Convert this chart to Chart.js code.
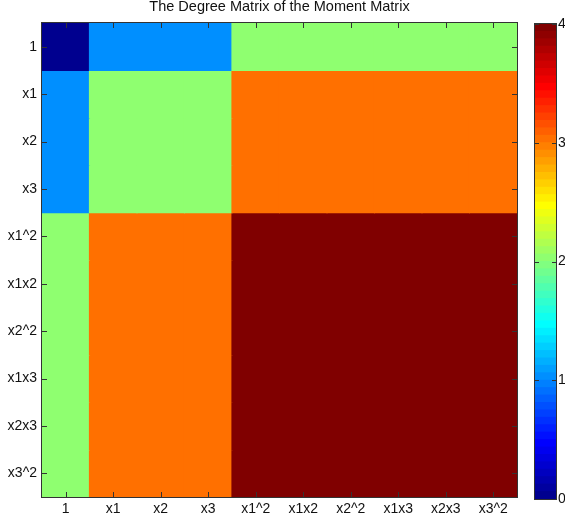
<!DOCTYPE html>
<html>
<head>
<meta charset="utf-8">
<script src="https://cdn.jsdelivr.net/npm/chart.js@4.4.0/dist/chart.umd.min.js"></script>
<style>
    html, body { margin: 0; padding: 0; background: #fff; }
    #wrap { position: relative; width: 565px; height: 520px; }
    #heat { position: absolute; left: 0; top: 0; }
    #cbar { position: absolute; left: 520px; top: 0; }
</style>
</head>
<body>
<div id="wrap">
    <canvas id="heat" width="565" height="520"></canvas>
    <canvas id="cbar" width="45" height="520"></canvas>
</div>
<script>
/* ============================
      DADOS
============================ */
const rowLabels = ["1", "x1", "x2", "x3", "x1^2", "x1x2", "x2^2", "x1x3", "x2x3", "x3^2"];
const colLabels = ["1", "x1", "x2", "x3", "x1^2", "x1x2", "x2^2", "x1x3", "x2x3", "x3^2"];

// degree of each cell, one array per row (top to bottom)
const row1    = [0, 1, 1, 1, 2, 2, 2, 2, 2, 2];
const rowX1   = [1, 2, 2, 2, 3, 3, 3, 3, 3, 3];
const rowX2   = [1, 2, 2, 2, 3, 3, 3, 3, 3, 3];
const rowX3   = [1, 2, 2, 2, 3, 3, 3, 3, 3, 3];
const rowX1_2 = [2, 3, 3, 3, 4, 4, 4, 4, 4, 4];
const rowX1X2 = [2, 3, 3, 3, 4, 4, 4, 4, 4, 4];
const rowX2_2 = [2, 3, 3, 3, 4, 4, 4, 4, 4, 4];
const rowX1X3 = [2, 3, 3, 3, 4, 4, 4, 4, 4, 4];
const rowX2X3 = [2, 3, 3, 3, 4, 4, 4, 4, 4, 4];
const rowX3_2 = [2, 3, 3, 3, 4, 4, 4, 4, 4, 4];
const degreeRows = [row1, rowX1, rowX2, rowX3, rowX1_2, rowX1X2, rowX2_2, rowX1X3, rowX2X3, rowX3_2];

const colorbarTicks = [0, 1, 2, 3, 4];
const cmin = 0, cmax = 4;

const FONT = "'Liberation Sans', Arial, Helvetica, sans-serif";
const TXT = "#111";
const LINE = "#333";

/* ============================
      COLORMAP JET (64)
============================ */
function jetU(j) {
    if (j < 1 || j > 47) return 0;
    if (j <= 16) return j / 16;
    if (j <= 31) return 1;
    return (48 - j) / 16;
}
function jet(i) {
    let r = Math.round(255 * jetU(i - 24));
    let g = Math.round(255 * jetU(i - 8));
    let b = Math.round(255 * jetU(i + 8));
    return "rgb(" + r + "," + g + "," + b + ")";
}
function colorOf(v) {
    let i = Math.floor((v - cmin) / (cmax - cmin) * 64) + 1;
    return jet(Math.min(64, Math.max(1, i)));
}

/* ============================
      TICKS PARA DENTRO + CAIXA
============================ */
const inwardTicks = {
    id: "inwardTicks",
    afterDraw(chart, args, opts) {
        const { ctx, chartArea: a, scales } = chart;
        const len = opts.len || 5;
        ctx.save();
        ctx.strokeStyle = LINE;
        ctx.lineWidth = 1;
        ctx.beginPath();
        if (scales.x && scales.x.options.display !== false) {
            scales.x.ticks.forEach((t, i) => {
                let x = Math.round(scales.x.getPixelForTick(i)) + 0.5;
                ctx.moveTo(x, a.bottom); ctx.lineTo(x, a.bottom - len);
                ctx.moveTo(x, a.top); ctx.lineTo(x, a.top + len);
            });
        }
        scales.y.ticks.forEach((t, i) => {
            let y = Math.round(scales.y.getPixelForValue(t.value)) + 0.5;
            ctx.moveTo(a.left, y); ctx.lineTo(a.left + len, y);
            ctx.moveTo(a.right, y); ctx.lineTo(a.right - len, y);
        });
        ctx.stroke();
        ctx.strokeRect(a.left - 0.5, a.top - 0.5, a.right - a.left + 1, a.bottom - a.top + 1);
        ctx.restore();
    }
};

/* ============================
      MAPA DE CALOR
============================ */
const heatSets = degreeRows.map((vals, r) => ({
    label: rowLabels[r],
    data: vals.map(() => [r, r + 1]),
    backgroundColor: vals.map(colorOf),
    borderWidth: 0,
    inflateAmount: 0.6,
    barPercentage: 1,
    categoryPercentage: 1
}));

new Chart(document.getElementById("heat"), {
    type: "bar",
    data: { labels: colLabels, datasets: heatSets },
    plugins: [inwardTicks],
    options: {
        responsive: false,
        devicePixelRatio: 1,
        animation: false,
        layout: { padding: { left: 0, top: 0, right: 48, bottom: 0 } },
        plugins: {
            legend: { display: false },
            tooltip: { enabled: false },
            inwardTicks: { len: 5 },
            title: {
                display: true,
                text: "The Degree Matrix of the Moment Matrix",
                color: TXT,
                fullSize: false,
                font: { family: FONT, size: 14.5, weight: "normal", lineHeight: 1 },
                padding: { top: 0, bottom: 8.5 }
            }
        },
        scales: {
            x: {
                type: "category",
                stacked: true,
                grid: { display: false, drawTicks: false },
                border: { display: false },
                ticks: { color: TXT, font: { family: FONT, size: 14 }, padding: 4, maxRotation: 0, autoSkip: false },
                afterFit: s => { s.height = 23; }
            },
            y: {
                type: "linear",
                min: 0,
                max: 10,
                reverse: true,
                grid: { display: false, drawTicks: false },
                border: { display: false },
                afterBuildTicks: s => { s.ticks = rowLabels.map((_, i) => ({ value: i + 0.5 })); },
                ticks: { color: TXT, font: { family: FONT, size: 14 }, padding: 5, autoSkip: false, callback: (v, i) => rowLabels[i] },
                afterFit: s => { s.width = 42; }
            }
        }
    }
});

/* ============================
      BARRA DE CORES
============================ */
const cbSets = [];
for (let i = 1; i <= 64; i++) {
    cbSets.push({
        data: [(cmax - cmin) / 64],
        backgroundColor: jet(i),
        borderWidth: 0,
        inflateAmount: 0.5,
        barPercentage: 1,
        categoryPercentage: 1
    });
}

new Chart(document.getElementById("cbar"), {
    type: "bar",
    data: { labels: [""], datasets: cbSets },
    plugins: [inwardTicks],
    options: {
        responsive: false,
        devicePixelRatio: 1,
        animation: false,
        layout: { padding: { left: 15, top: 24, right: 0, bottom: 21 } },
        plugins: { legend: { display: false }, tooltip: { enabled: false }, inwardTicks: { len: 4 } },
        scales: {
            x: { display: false, stacked: true },
            y: {
                stacked: true,
                position: "right",
                min: cmin,
                max: cmax,
                grid: { display: false, drawTicks: false },
                border: { display: false },
                afterBuildTicks: s => { s.ticks = colorbarTicks.map(v => ({ value: v })); },
                ticks: { color: TXT, font: { family: FONT, size: 14 }, padding: 2, autoSkip: false },
                afterFit: s => { s.width = 9; }
            }
        }
    }
});
</script>
</body>
</html>
